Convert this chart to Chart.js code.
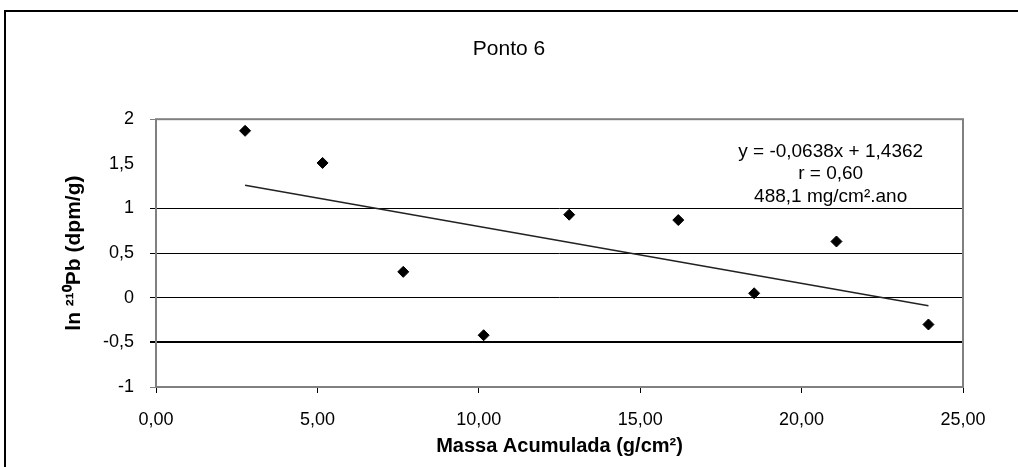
<!DOCTYPE html>
<html>
<head>
<meta charset="utf-8">
<script src="https://cdn.jsdelivr.net/npm/chart.js@4"></script>
<style>
  body { margin: 0; background: #fff; overflow: hidden; }
  #frame { position: absolute; left: 4px; top: 10px; width: 1100px; height: 600px; border: 2px solid #000; }
  #wrap { position: absolute; left: 0; top: 0; width: 1018px; height: 467px; }
</style>
</head>
<body>
<div id="frame"></div>
<div id="wrap"><canvas id="ponto6" width="1018" height="467"></canvas></div>
<script>
// pontos medidos (massa acumulada, ln 210Pb)
const massa = [2.76, 5.16, 7.66, 10.15, 12.80, 16.18, 18.53, 21.08, 23.93];
const lnPb  = [1.87, 1.51, 0.29, -0.42, 0.93, 0.87, 0.05, 0.63, -0.30];

// linha de tendencia (extremos)
const trendX = [2.76, 23.93];
const trendY = [1.26, -0.09];

const eqLines = ['y = -0,0638x + 1,4362', 'r = 0,60', '488,1 mg/cm\u00b2.ano'];
const eqX = 20.9;
const eqY = [1.63, 1.39, 1.13];

const fam = "'Liberation Sans', Arial, sans-serif";

// borda cinza da area do grafico + texto da equacao
const plotFrame = {
    id: 'plotFrame',
    afterDraw(chart) {
        const { ctx, chartArea: a, scales } = chart;
        ctx.save();
        ctx.strokeStyle = '#808080';
        ctx.lineWidth = 2;
        ctx.strokeRect(a.left, a.top, a.right - a.left, a.bottom - a.top);
        ctx.fillStyle = '#000';
        ctx.font = '19px ' + fam;
        ctx.textAlign = 'center';
        ctx.textBaseline = 'middle';
        eqLines.forEach(function(t, i) {
            ctx.fillText(t, scales.x.getPixelForValue(eqX), scales.y.getPixelForValue(eqY[i]));
        });
        ctx.restore();
    }
};

const ctx = document.getElementById('ponto6').getContext('2d');
new Chart(ctx, {
    type: 'scatter',
    data: {
        datasets: [
            {
                label: 'Ponto 6',
                data: massa.map((x, i) => ({ x: x, y: lnPb[i] })),
                backgroundColor: '#000',
                borderColor: '#000',
                pointStyle: 'rectRot',
                pointRadius: 5.5,
                order: 1
            },
            {
                type: 'line',
                label: 'Tendencia',
                data: trendX.map((x, i) => ({ x: x, y: trendY[i] })),
                borderColor: '#222',
                borderWidth: 1.5,
                pointRadius: 0,
                fill: false,
                order: 2
            }
        ]
    },
    options: {
        responsive: false,
        animation: false,
        events: [],
        layout: { padding: { left: 55, right: 55, top: 0, bottom: 0 } },
        plugins: {
            legend: { display: false },
            tooltip: { enabled: false },
            title: {
                display: true,
                text: 'Ponto 6',
                color: '#000',
                font: { family: fam, size: 21, weight: 'normal' },
                padding: { top: 37, bottom: 57 }
            }
        },
        scales: {
            x: {
                type: 'linear',
                min: 0,
                max: 25,
                afterFit: function(s) { s.height = 80; },
                border: { display: false },
                grid: { drawOnChartArea: false, drawTicks: true, tickLength: 6, color: '#000' },
                ticks: {
                    stepSize: 5,
                    padding: 16,
                    color: '#000',
                    font: { family: fam, size: 18 },
                    callback: v => v.toFixed(2).replace('.', ',')
                },
                title: {
                    display: true,
                    text: 'Massa Acumulada (g/cm\u00b2)',
                    color: '#000',
                    font: { family: fam, size: 20, weight: 'bold' },
                    padding: { top: 0, bottom: 9 }
                }
            },
            y: {
                min: -1,
                max: 2,
                afterFit: function(s) { s.width = 101; },
                border: { display: false },
                grid: {
                    tickLength: 6,
                    color: c => {
                        const v = c.tick ? c.tick.value : 0;
                        if (v === 1.5) return 'rgba(0,0,0,0)';
                        if (v === 2 || v === -1) return '#808080';
                        return '#000';
                    },
                    lineWidth: c => (c.tick && c.tick.value === -0.5) ? 2 : 1
                },
                ticks: {
                    stepSize: 0.5,
                    padding: 16,
                    color: '#000',
                    font: { family: fam, size: 18 },
                    callback: v => String(v).replace('.', ',')
                },
                title: {
                    display: true,
                    text: 'ln \u00b2\u00b9\u2070Pb (dpm/g)',
                    color: '#000',
                    font: { family: fam, size: 21, weight: 'bold' },
                    padding: { top: 7, bottom: 0 }
                }
            }
        }
    },
    plugins: [plotFrame]
});
</script>
</body>
</html>
